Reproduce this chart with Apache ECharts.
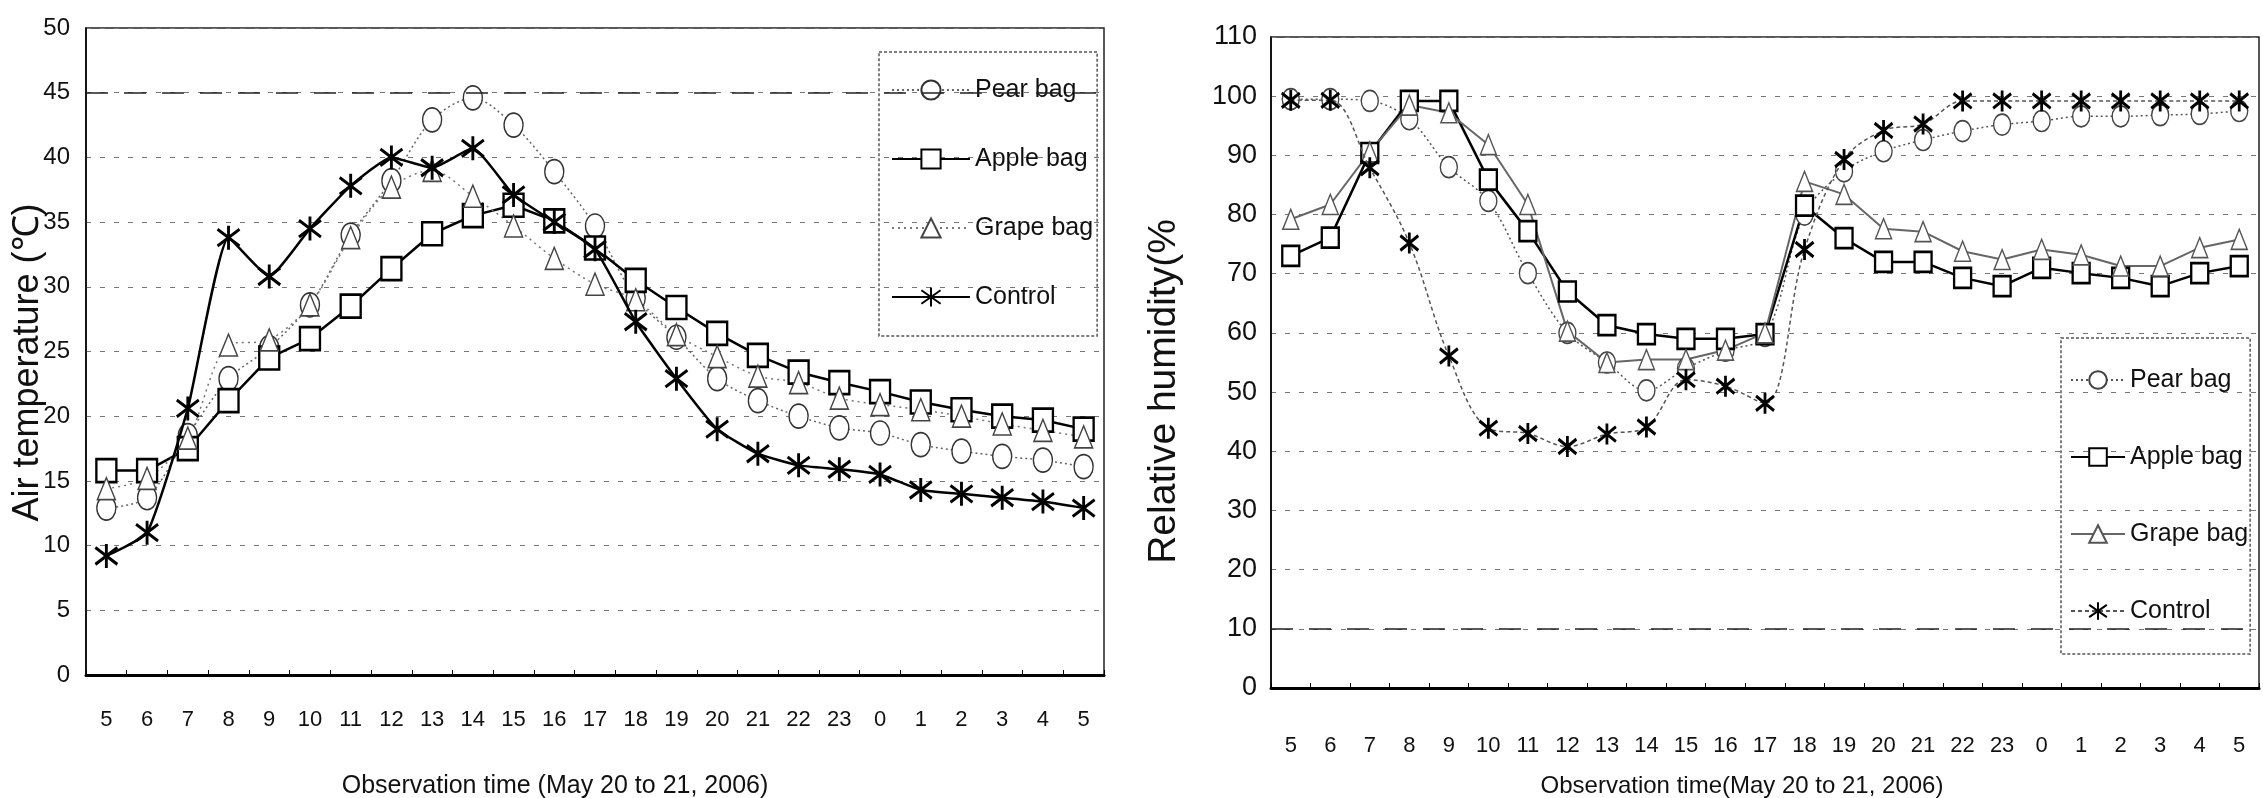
<!DOCTYPE html>
<html><head><meta charset="utf-8">
<script src="https://cdn.jsdelivr.net/npm/echarts@6/dist/echarts.min.js"></script>
<style>
html,body{margin:0;padding:0;background:#fff;}
#wrap{position:relative;width:2263px;height:798px;background:#fff;}
#c1{position:absolute;left:0;top:0;width:1150px;height:798px;}
#c2{position:absolute;left:1100px;top:0;width:1163px;height:798px;}
</style>
</head><body><div id="wrap"><div id="c1"></div><div id="c2"></div></div>
<script>
// ---- data ----
const hours = ['5','6','7','8','9','10','11','12','13','14','15','16','17','18','19','20','21','22','23','0','1','2','3','4','5'];
const seriesNames = ['Pear bag', 'Apple bag', 'Grape bag', 'Control'];

const tempPear    = [12.9, 13.7, 18.5, 22.9, 25.3, 28.6, 34.0, 38.2, 42.9, 44.6, 42.5, 38.9, 34.7, 29.1, 26.1, 22.9, 21.2, 20.0, 19.1, 18.7, 17.8, 17.3, 16.9, 16.6, 16.1];
const tempApple   = [15.8, 15.8, 17.5, 21.2, 24.5, 26.0, 28.5, 31.4, 34.1, 35.5, 36.3, 35.1, 33.0, 30.5, 28.4, 26.4, 24.7, 23.4, 22.6, 21.9, 21.1, 20.5, 20.0, 19.7, 19.0];
const tempGrape   = [14.4, 15.2, 18.3, 25.5, 25.9, 28.6, 33.8, 37.7, 39.0, 37.0, 34.7, 32.2, 30.2, 29.0, 26.3, 24.6, 23.1, 22.6, 21.4, 20.9, 20.5, 20.0, 19.4, 18.9, 18.4];
const tempControl = [9.2, 11.0, 20.6, 33.8, 30.8, 34.5, 37.8, 40.0, 39.2, 40.7, 37.1, 35.0, 32.9, 27.3, 22.9, 19.0, 17.1, 16.2, 15.9, 15.5, 14.3, 14.0, 13.7, 13.4, 12.9];

const humPear    = [99.5, 99.5, 99.2, 96.1, 88.0, 82.3, 70.1, 60.0, 55.0, 50.3, 54.0, 57.0, 59.5, 80.0, 87.3, 90.7, 92.6, 94.1, 95.2, 95.8, 96.6, 96.6, 96.8, 97.0, 97.5];
const humApple   = [73.0, 76.1, 90.4, 99.2, 99.2, 85.9, 77.2, 67.0, 61.3, 59.8, 59.0, 59.0, 59.8, 81.5, 76.0, 72.0, 72.0, 69.3, 67.9, 71.0, 70.1, 69.3, 67.9, 70.1, 71.3];
const humGrape   = [79.2, 81.7, 90.6, 98.5, 97.2, 91.8, 81.7, 60.3, 55.0, 55.5, 55.5, 57.1, 60.0, 85.6, 83.4, 77.6, 77.1, 73.8, 72.4, 74.1, 73.2, 71.3, 71.3, 74.4, 75.8];
const humControl = [99.3, 99.3, 87.9, 75.2, 56.1, 43.9, 43.0, 40.8, 42.9, 44.1, 52.1, 51.0, 48.1, 74.1, 89.3, 94.2, 95.3, 99.2, 99.2, 99.2, 99.2, 99.2, 99.2, 99.2, 99.2];

const leftTitleX = 'Observation time (May 20 to 21, 2006)';
const leftTitleY = 'Air temperature (\u2103)';
const rightTitleX = 'Observation time(May 20 to 21, 2006)';
const rightTitleY = 'Relative humidity(%';

// ---- helpers ----
const SANS = "'Liberation Sans', Arial, sans-serif";
const ASTER = 'path://M10,0L10,20M1,3L19,17M19,3L1,17';

function line(name, data, opt) {
  return {
    name: name, type: 'line', data: data,
    symbol: opt.symbol, symbolSize: opt.size, showAllSymbol: true,
    smooth: opt.smooth || false,
    itemStyle: { color: opt.fill, borderColor: opt.stroke, borderWidth: opt.bw },
    lineStyle: { color: opt.lc, width: opt.lw, type: opt.lt },
    emphasis: { disabled: true },
    z: opt.z || 2,
    markLine: opt.markLine
  };
}

function baseAxes(cfg) {
  return {
    xAxis: {
      type: 'category', data: hours, boundaryGap: true,
      axisLine: { lineStyle: { color: '#000', width: 3 } },
      axisTick: { show: true, inside: true, length: 5, lineStyle: { color: '#000', width: 1 } },
      axisLabel: { interval: 0, fontSize: cfg.xFont, margin: cfg.xMargin, color: '#111', fontFamily: SANS },
      splitLine: { show: false },
      name: cfg.xName, nameLocation: 'middle', nameGap: cfg.xNameGap, nameMoveOverlap: false,
      nameTextStyle: { fontSize: cfg.xNameFont, color: '#111', fontFamily: SANS, padding: cfg.xNamePad }
    },
    yAxis: {
      type: 'value', min: 0, max: cfg.yMax, interval: cfg.yInt,
      axisLine: { show: true, lineStyle: { color: '#000', width: 1.5 } },
      axisTick: { show: false },
      axisLabel: { fontSize: cfg.yFont, margin: cfg.yMargin, color: '#111', fontFamily: SANS },
      splitLine: { show: true, lineStyle: { color: '#777', width: 1, type: [5, 9] } },
      name: cfg.yName, nameLocation: 'middle', nameGap: cfg.yNameGap, nameRotate: 90, nameMoveOverlap: false,
      nameTextStyle: { fontSize: cfg.yNameFont, color: '#111', fontFamily: SANS, padding: cfg.yNamePad }
    }
  };
}

// ---- left chart ----
const c1 = echarts.init(document.getElementById('c1'), null, { renderer: 'canvas' });
const ax1 = baseAxes({ xFont: 22, xMargin: 34, xName: leftTitleX, xNameGap: 99, xNameFont: 25, xNamePad: [0, 80, 0, 0],
  yMax: 50, yInt: 5, yFont: 24, yMargin: 16, yName: leftTitleY, yNameGap: 40, yNameFont: 36, yNamePad: [0, 22, 0, 0] });
c1.setOption({
  animation: false,
  backgroundColor: 'transparent',
  grid: { left: 86, top: 28, width: 1018, height: 647, show: true, borderColor: '#222', borderWidth: 1.5,
          containLabel: false, outerBoundsMode: 'none' },
  xAxis: ax1.xAxis, yAxis: ax1.yAxis,
  legend: {
    orient: 'vertical', left: 879, top: 52, data: seriesNames,
    itemWidth: 78, itemHeight: 24, itemGap: 39,
    padding: [23, 4, 24, 12],
    borderColor: '#555', borderWidth: 1.5, borderType: [3, 2],
    textStyle: { fontSize: 25, lineHeight: 30, color: '#111', fontFamily: SANS },
    selectedMode: false
  },
  series: [
    line(seriesNames[0], tempPear, { symbol: 'circle', size: [19, 24], fill: '#fff', stroke: '#333', bw: 1.5,
      lc: '#666', lw: 1.5, lt: [2, 3], smooth: 0.3,
      markLine: { silent: true, symbol: 'none', label: { show: false },
        lineStyle: { color: '#222', width: 1.5, type: [22, 16] }, data: [{ yAxis: 45 }] } }),
    line(seriesNames[1], tempApple, { symbol: 'rect', size: [20, 23], fill: '#fff', stroke: '#000', bw: 2.5,
      lc: '#000', lw: 2.5, lt: 'solid' }),
    line(seriesNames[2], tempGrape, { symbol: 'triangle', size: [18, 22], fill: '#fff', stroke: '#444', bw: 1.5,
      lc: '#777', lw: 1.5, lt: [2, 4], smooth: 0.3 }),
    line(seriesNames[3], tempControl, { symbol: ASTER, size: [22, 24], fill: '#000', stroke: '#000', bw: 3,
      lc: '#000', lw: 2.5, lt: 'solid', smooth: 0.15, z: 3 })
  ]
});

// ---- right chart ----
const c2 = echarts.init(document.getElementById('c2'), null, { renderer: 'canvas' });
const ax2 = baseAxes({ xFont: 22, xMargin: 47, xName: rightTitleX, xNameGap: 86, xNameFont: 24, xNamePad: [0, 46, 0, 0],
  yMax: 110, yInt: 10, yFont: 27, yMargin: 14, yName: rightTitleY, yNameGap: 87, yNameFont: 39, yNamePad: [0, 58, 0, 0] });
c2.setOption({
  animation: false,
  backgroundColor: 'transparent',
  grid: { left: 171, top: 37, width: 988, height: 651, show: true, borderColor: '#222', borderWidth: 1.5,
          containLabel: false, outerBoundsMode: 'none' },
  xAxis: ax2.xAxis, yAxis: ax2.yAxis,
  legend: {
    orient: 'vertical', left: 961, top: 338, data: seriesNames,
    itemWidth: 54, itemHeight: 22, itemGap: 47,
    padding: [27, 2, 28, 9],
    borderColor: '#555', borderWidth: 1.5, borderType: [3, 2],
    textStyle: { fontSize: 25, lineHeight: 30, color: '#111', fontFamily: SANS },
    selectedMode: false
  },
  series: [
    line(seriesNames[0], humPear, { symbol: 'circle', size: [17, 21], fill: '#fff', stroke: '#444', bw: 1.5,
      lc: '#555', lw: 1.5, lt: [2, 3], smooth: 0.35,
      markLine: { silent: true, symbol: 'none', label: { show: false },
        lineStyle: { color: '#222', width: 1.5, type: [22, 16] }, data: [{ yAxis: 10 }] } }),
    line(seriesNames[1], humApple, { symbol: 'rect', size: [17, 20], fill: '#fff', stroke: '#000', bw: 2.5,
      lc: '#000', lw: 2.5, lt: 'solid' }),
    line(seriesNames[2], humGrape, { symbol: 'triangle', size: [16, 20], fill: '#fff', stroke: '#555', bw: 1.5,
      lc: '#666', lw: 2, lt: 'solid' }),
    line(seriesNames[3], humControl, { symbol: ASTER, size: [18, 21], fill: '#000', stroke: '#000', bw: 3,
      lc: '#555', lw: 1.5, lt: [4, 3], smooth: 0.35, z: 3 })
  ]
});
</script>
</body></html>
